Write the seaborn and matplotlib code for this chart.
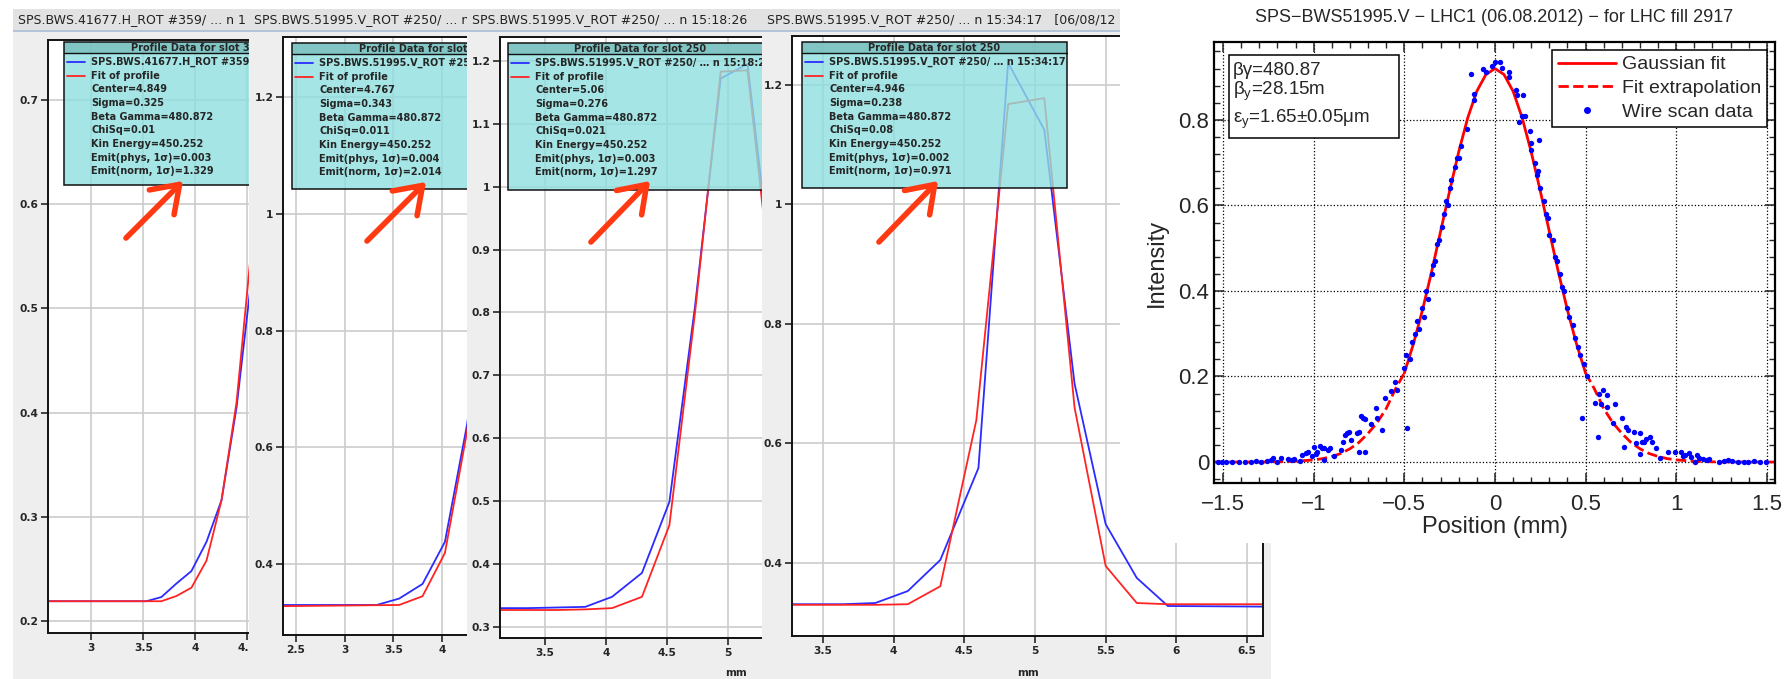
import matplotlib
matplotlib.use("Agg")
import matplotlib.pyplot as plt
import matplotlib.transforms as mtransforms
from matplotlib.patches import Rectangle, FancyArrowPatch
from matplotlib.lines import Line2D
from matplotlib.ticker import AutoMinorLocator, FuncFormatter
import seaborn as sns

sns.set_style("white")
plt.rcParams["font.family"] = ["DejaVu Sans"]
plt.rcParams["mathtext.fontset"] = "custom"
plt.rcParams["mathtext.rm"] = "Liberation Sans"
plt.rcParams["mathtext.it"] = "Liberation Sans:italic"

# ---- data: four Java wire-scanner screenshots (only the visible part of each) ----
p1_title = "SPS.BWS.41677.H_ROT #359/ ... n 1"
p1_header = "Profile Data for slot 3"
p1_blue_x = [2.58, 3.53, 3.675, 3.82, 3.965, 4.11, 4.255, 4.40, 4.545, 4.69]
p1_blue_y = [0.219, 0.219, 0.223, 0.236, 0.248, 0.276, 0.316, 0.405, 0.53, 0.66]
p1_fit_x = [2.58, 3.53, 3.675, 3.82, 3.965, 4.11, 4.255, 4.40, 4.545, 4.69]
p1_fit_y = [0.219, 0.219, 0.219, 0.224, 0.232, 0.258, 0.316, 0.41, 0.56, 0.70]
p1_info = ["SPS.BWS.41677.H_ROT #359,", "Fit of profile", "Center=4.849",
           "Sigma=0.325", "Beta Gamma=480.872", "ChiSq=0.01", "Kin Energy=450.252",
           "Emit(phys, 1σ)=0.003", "Emit(norm, 1σ)=1.329"]

p2_title = "SPS.BWS.51995.V_ROT #250/ ... n 1"
p2_header = "Profile Data for slot"
p2_blue_x = [2.36, 3.33, 3.56, 3.80, 4.03, 4.26, 4.50]
p2_blue_y = [0.330, 0.330, 0.341, 0.366, 0.438, 0.641, 0.95]
p2_fit_x = [2.36, 3.56, 3.80, 4.03, 4.26, 4.50]
p2_fit_y = [0.328, 0.330, 0.345, 0.419, 0.629, 0.95]
p2_info = ["SPS.BWS.51995.V_ROT #25", "Fit of profile", "Center=4.767",
           "Sigma=0.343", "Beta Gamma=480.872", "ChiSq=0.011", "Kin Energy=450.252",
           "Emit(phys, 1σ)=0.004", "Emit(norm, 1σ)=2.014"]

p3_title = "SPS.BWS.51995.V_ROT #250/ ... n 15:18:26"
p3_header = "Profile Data for slot 250"
p3_blue_x = [3.13, 3.36, 3.60, 3.83, 4.05, 4.295, 4.52, 4.73, 4.94, 5.16, 5.38]
p3_blue_y = [0.330, 0.330, 0.331, 0.332, 0.348, 0.386, 0.499, 0.81, 1.172, 1.195, 0.83]
p3_fit_x = [3.13, 3.36, 3.60, 3.83, 4.05, 4.295, 4.52, 4.73, 4.94, 5.16, 5.38]
p3_fit_y = [0.327, 0.327, 0.327, 0.328, 0.330, 0.348, 0.462, 0.80, 1.183, 1.185, 0.80]
p3_info = ["SPS.BWS.51995.V_ROT #250/ … n 15:18:2", "Fit of profile", "Center=5.06",
           "Sigma=0.276", "Beta Gamma=480.872", "ChiSq=0.021", "Kin Energy=450.252",
           "Emit(phys, 1σ)=0.003", "Emit(norm, 1σ)=1.297"]

p4_title = "SPS.BWS.51995.V_ROT #250/ ... n 15:34:17   [06/08/12"
p4_header = "Profile Data for slot 250"
p4_blue_x = [3.28, 3.64, 3.87, 4.10, 4.33, 4.60, 4.81, 5.066, 5.28, 5.50, 5.72, 5.94, 6.61]
p4_blue_y = [0.331, 0.331, 0.333, 0.353, 0.405, 0.559, 1.237, 1.125, 0.70, 0.465, 0.375, 0.328, 0.327]
p4_fit_x = [3.28, 3.64, 3.87, 4.10, 4.33, 4.585, 4.81, 5.066, 5.28, 5.50, 5.72, 5.94, 6.61]
p4_fit_y = [0.330, 0.330, 0.330, 0.331, 0.361, 0.639, 1.168, 1.178, 0.66, 0.395, 0.333, 0.331, 0.331]
p4_info = ["SPS.BWS.51995.V_ROT #250/ … n 15:34:17", "Fit of profile", "Center=4.946",
           "Sigma=0.238", "Beta Gamma=480.872", "ChiSq=0.08", "Kin Energy=450.252",
           "Emit(phys, 1σ)=0.002", "Emit(norm, 1σ)=0.971"]

# ---- data: MATLAB summary plot ----
fit_x = [-1.55, -1.3, -1.2, -1.1, -1.0, -0.95, -0.9, -0.85, -0.8, -0.75, -0.7, -0.65, -0.6,
         -0.55, -0.5, -0.45, -0.4, -0.35, -0.3, -0.25, -0.2, -0.15, -0.1, -0.05, 0.0,
         0.05, 0.1, 0.15, 0.2, 0.25, 0.3, 0.35, 0.4, 0.45, 0.5, 0.55, 0.6, 0.65, 0.7,
         0.75, 0.8, 0.85, 0.9, 0.95, 1.0, 1.1, 1.2, 1.3, 1.55]
fit_y = [0.0, 0.0, 0.0005, 0.002, 0.005, 0.008, 0.013, 0.020, 0.031, 0.046, 0.067, 0.092, 0.125,
         0.170, 0.208, 0.276, 0.355, 0.444, 0.539, 0.634, 0.725, 0.805, 0.867, 0.906, 0.920,
         0.906, 0.867, 0.805, 0.725, 0.634, 0.539, 0.444, 0.355, 0.276, 0.208, 0.170, 0.125,
         0.092, 0.067, 0.046, 0.031, 0.020, 0.013, 0.008, 0.005, 0.002, 0.0005, 0.0, 0.0]

wire_x = [-1.526, -1.504, -1.482, -1.448, -1.414, -1.380, -1.347, -1.317, -1.290, -1.257,
          -1.234, -1.223, -1.201, -1.178, -1.144, -1.122, -1.111, -1.077, -1.066, -1.043,
          -1.032, -1.010, -0.998, -0.987, -0.980, -0.965, -0.953, -0.942, -0.942, -0.920,
          -0.908, -0.886, -0.852, -0.841, -0.830, -0.818, -0.807, -0.796, -0.762, -0.751,
          -0.751, -0.740, -0.729, -0.717, -0.717, -0.684, -0.654, -0.650, -0.621, -0.605,
          -0.576, -0.538, -0.553, -0.486,
          -0.50, -0.49, -0.47, -0.46, -0.44, -0.43, -0.42, -0.40, -0.39, -0.38, -0.37, -0.35,
          -0.34, -0.33, -0.32, -0.31, -0.29, -0.28, -0.27, -0.26, -0.25, -0.24, -0.22, -0.21,
          -0.196, -0.189, -0.155, -0.118, -0.115, -0.133, -0.065, -0.050, -0.014, 0.002,
          0.029, 0.040, 0.076, 0.076, 0.114, 0.121, 0.152, 0.148, 0.166, 0.132, 0.193,
          0.242, 0.197,
          0.20, 0.22, 0.23, 0.24, 0.25, 0.27, 0.28, 0.29, 0.30, 0.32, 0.33, 0.34, 0.36,
          0.37, 0.38, 0.40, 0.41, 0.43, 0.44, 0.46, 0.47, 0.49, 0.51,
          0.481, 0.553, 0.571, 0.575, 0.586, 0.598, 0.616, 0.620, 0.654, 0.665, 0.699,
          0.710, 0.721, 0.732, 0.766, 0.777, 0.800, 0.800, 0.811, 0.822, 0.834, 0.856,
          0.867, 0.890, 0.908, 0.957, 0.991, 1.025, 1.036, 1.047, 1.070, 1.081, 1.103,
          1.115, 1.126, 1.148, 1.171, 1.182, 1.238, 1.261, 1.283, 1.306, 1.339, 1.373,
          1.396, 1.429, 1.463, 1.497]
wire_y = [0.001, 0.001, 0.001, 0.001, 0.001, 0.001, -0.001, 0.002, 0.001, 0.003,
          0.005, 0.009, 0.001, 0.009, 0.006, 0.005, 0.006, 0.003, 0.016, 0.020,
          0.024, 0.014, 0.036, 0.019, 0.024, 0.037, 0.032, 0.005, 0.032, 0.028,
          0.032, 0.014, 0.028, 0.048, 0.063, 0.067, 0.071, 0.051, 0.067, 0.071,
          0.024, 0.108, 0.102, 0.100, 0.024, 0.090, 0.126, 0.102, 0.075, 0.149,
          0.165, 0.168, 0.188, 0.079,
          0.22, 0.25, 0.24, 0.28, 0.30, 0.33, 0.31, 0.36, 0.34, 0.40, 0.38, 0.44,
          0.46, 0.47, 0.51, 0.52, 0.55, 0.58, 0.61, 0.60, 0.64, 0.66, 0.69, 0.71,
          0.710, 0.739, 0.778, 0.846, 0.860, 0.908, 0.919, 0.913, 0.927, 0.936,
          0.935, 0.922, 0.911, 0.901, 0.870, 0.857, 0.857, 0.809, 0.808, 0.794, 0.773,
          0.753, 0.747,
          0.73, 0.70, 0.67, 0.68, 0.64, 0.61, 0.58, 0.57, 0.53, 0.52, 0.48, 0.47, 0.44,
          0.41, 0.40, 0.36, 0.34, 0.32, 0.29, 0.27, 0.25, 0.23, 0.20,
          0.104, 0.139, 0.059, 0.159, 0.136, 0.168, 0.157, 0.129, 0.092, 0.136, 0.102,
          0.036, 0.083, 0.075, 0.071, 0.045, 0.067, 0.019, 0.048, 0.048, 0.053, 0.059,
          0.048, 0.032, 0.009, 0.024, 0.024, 0.024, 0.013, 0.016, 0.020, 0.011, 0.001,
          0.016, 0.009, 0.006, 0.005, 0.006, 0.001, 0.003, 0.005, 0.002, 0.001, 0.001,
          0.001, 0.002, 0.001, 0.000]

right_title = "SPS\u2212BWS51995.V \u2212 LHC1 (06.08.2012) \u2212 for LHC fill 2917"
info_lines = ["βγ=480.87", "β$_\\mathrm{y}$=28.15m", "ε$_\\mathrm{y}$=1.65±0.05μm"]

# ---- figure in pixel units ----
W, H = 1789, 679
fig = plt.figure(figsize=(W / 100, H / 100), dpi=100, facecolor="white")
PX = mtransforms.Affine2D().scale(1 / W, -1 / H).translate(0, 1) + fig.transFigure


def rect(x0, y0, x1, y1):
    return [x0 / W, 1 - y1 / H, (x1 - x0) / W, (y1 - y0) / H]


def bare(ax, color):
    ax.set_facecolor(color)
    ax.set_xticks([])
    ax.set_yticks([])
    for s in ax.spines.values():
        s.set_visible(False)


def java_panel(wx0, wx1, title, pbox, xlim, yticks, xticks, ylim,
               bx, by, fx, fy, box, header, info, mm_x=None, right_spine=False):
    win = fig.add_axes(rect(wx0, 9, wx1, H))
    bare(win, "#eeeeee")
    win.add_patch(Rectangle((wx0, 9), wx1 - wx0, 22, transform=PX,
                            facecolor="#e2e2e2", edgecolor="none"))
    win.plot([wx0, wx1], [31, 31], transform=PX, color="#a9bcd8", lw=1.2)
    win.text(wx0 + 5, 20, title, transform=PX, va="center", fontsize=9,
             color="#222222", clip_on=True)
    if mm_x is not None:
        win.text(mm_x, 673, "mm", transform=PX, ha="center", va="center",
                 fontsize=7.5, fontweight="bold", clip_on=True)

    ax = fig.add_axes(rect(*pbox))
    ax.set_facecolor("white")
    sns.lineplot(x=bx, y=by, ax=ax, color="#2b2bff", lw=1.3, sort=False, estimator=None)
    sns.lineplot(x=fx, y=fy, ax=ax, color="#ff2424", lw=1.3, sort=False, estimator=None)
    ax.set_xticks(xticks)
    ax.set_yticks(yticks)
    ax.xaxis.set_major_formatter(FuncFormatter(lambda v, p: f"{v:g}"))
    ax.yaxis.set_major_formatter(FuncFormatter(lambda v, p: f"{v:g}"))
    ax.set_xlim(*xlim)
    ax.set_ylim(*ylim)
    ax.grid(True, color="#cccccc", lw=1.2)
    ax.set_axisbelow(True)
    ax.tick_params(direction="out", length=5, width=1.2, labelsize=7.7, pad=2,
                   left=True, bottom=True)
    for lbl in ax.get_xticklabels() + ax.get_yticklabels():
        lbl.set_fontweight("bold")
    for s in ax.spines.values():
        s.set_color("#111111")
        s.set_linewidth(1.4)
    ax.spines["right"].set_visible(right_spine)
    ax.set_xlabel("")
    ax.set_ylabel("")

    x0, top, bot = box
    ax.add_patch(Rectangle((x0, top), 265, bot - top, transform=PX, zorder=3,
                           facecolor=(0.56, 0.875, 0.875), alpha=0.8, edgecolor="none"))
    ax.add_patch(Rectangle((x0, top), 265, 11, transform=PX, zorder=3,
                           facecolor=(0.48, 0.74, 0.74), alpha=0.8, edgecolor="none"))
    ax.add_patch(Rectangle((x0, top), 265, bot - top, transform=PX, zorder=4,
                           facecolor="none", edgecolor="#111111", lw=1.1))
    ax.plot([x0, x0 + 265], [top + 11, top + 11], transform=PX, color="#111111", lw=1, zorder=4)
    # header is centred on the full box; the cut ones start where the reference shows them
    if header.endswith("250"):
        ax.text(x0 + 132, top + 6, header, transform=PX, ha="center", va="center",
                fontsize=7, fontweight="bold", zorder=5, clip_on=True)
    else:
        ax.text(x0 + 67, top + 6, header, transform=PX, ha="left", va="center",
                fontsize=7, fontweight="bold", zorder=5, clip_on=True)
    for i, line in enumerate(info):
        yy = top + 20 + i * 13.65
        ax.text(x0 + 27, yy, line, transform=PX, va="center", fontsize=7,
                fontweight="bold", zorder=5, clip_on=True)
    ax.plot([x0 + 3, x0 + 21], [top + 20, top + 20], transform=PX, color="#2b2bff", lw=1.3, zorder=5)
    ax.plot([x0 + 3, x0 + 21], [top + 33.6, top + 33.6], transform=PX, color="#ff2424", lw=1.3, zorder=5)
    return ax


java_panel(13, 249, p1_title, (48, 40, 249, 633), (2.581, 4.52),
           [0.2, 0.3, 0.4, 0.5, 0.6, 0.7], [3, 3.5, 4, 4.5], (0.1885, 0.7576),
           p1_blue_x, p1_blue_y, p1_fit_x, p1_fit_y, (64, 42, 185), p1_header, p1_info)
java_panel(249, 467, p2_title, (283, 37, 467, 635), (2.366, 4.257),
           [0.4, 0.6, 0.8, 1.0, 1.2], [2.5, 3, 3.5, 4], (0.2786, 1.3026),
           p2_blue_x, p2_blue_y, p2_fit_x, p2_fit_y, (292, 43, 189), p2_header, p2_info)
java_panel(467, 762, p3_title, (500, 37, 762, 638), (3.131, 5.279),
           [0.3, 0.4, 0.5, 0.6, 0.7, 0.8, 0.9, 1.0, 1.1, 1.2], [3.5, 4, 4.5, 5], (0.2825, 1.238),
           p3_blue_x, p3_blue_y, p3_fit_x, p3_fit_y, (508, 43, 190), p3_header, p3_info, mm_x=736)
java_panel(762, 1271, p4_title, (792, 36, 1263, 636), (3.281, 6.613),
           [0.4, 0.6, 0.8, 1.0, 1.2], [3.5, 4, 4.5, 5, 5.5, 6, 6.5], (0.2778, 1.282),
           p4_blue_x, p4_blue_y, p4_fit_x, p4_fit_y, (802, 42, 188), p4_header, p4_info,
           mm_x=1028, right_spine=True)

# red arrows pointing at the normalised emittance
for (xa, ya), (xb, yb) in [((124, 240), (185, 179)), ((365, 243), (428, 180)),
                           ((589, 244), (652, 179)), ((877, 244), (940, 179))]:
    fig.add_artist(FancyArrowPatch((xa, ya), (xb, yb), transform=PX,
                                   arrowstyle="->,head_length=0.65,head_width=0.45",
                                   mutation_scale=28, lw=4, color="#ff3a12",
                                   capstyle="round", joinstyle="round"))

# ---- MATLAB style plot on the right ----
cover = fig.add_axes(rect(1120, 0, W, 543))
bare(cover, "white")

with plt.rc_context({"font.family": ["Liberation Sans"]}):
    ax = fig.add_axes(rect(1214, 42, 1775, 483))
    ax.set_facecolor("white")
    core_x = [x for x in fit_x if -0.5 <= x <= 0.5]
    core_y = [y for x, y in zip(fit_x, fit_y) if -0.5 <= x <= 0.5]
    left_x = [x for x in fit_x if x <= -0.5]
    left_y = [y for x, y in zip(fit_x, fit_y) if x <= -0.5]
    right_x = [x for x in fit_x if x >= 0.5]
    right_y = [y for x, y in zip(fit_x, fit_y) if x >= 0.5]
    sns.lineplot(x=left_x, y=left_y, ax=ax, color="red", lw=2, ls="--", sort=False, estimator=None)
    sns.lineplot(x=right_x, y=right_y, ax=ax, color="red", lw=2, ls="--", sort=False, estimator=None)
    sns.lineplot(x=core_x, y=core_y, ax=ax, color="red", lw=2, sort=False, estimator=None)
    sns.scatterplot(x=wire_x, y=wire_y, ax=ax, color="blue", s=15, linewidth=0, zorder=3)

    ax.set_xlim(-1.55, 1.545)
    ax.set_ylim(-0.049, 0.982)
    ax.set_xticks([-1.5, -1, -0.5, 0, 0.5, 1, 1.5])
    ax.set_yticks([0, 0.2, 0.4, 0.6, 0.8])
    fmt = FuncFormatter(lambda v, p: f"{v:g}".replace("-", "\u2212"))
    ax.xaxis.set_major_formatter(fmt)
    ax.yaxis.set_major_formatter(fmt)
    ax.xaxis.set_minor_locator(AutoMinorLocator(5))
    ax.yaxis.set_minor_locator(AutoMinorLocator(5))
    ax.tick_params(which="both", direction="in", top=True, right=True, left=True, bottom=True)
    ax.tick_params(which="major", length=7, width=1.1, labelsize=16)
    ax.tick_params(axis="x", which="major", pad=8)
    ax.tick_params(which="minor", length=4, width=1)
    ax.grid(True, which="major", ls=":", color="black", lw=0.9)
    for s in ax.spines.values():
        s.set_linewidth(1.6)
        s.set_color("black")
    ax.set_xlabel("Position (mm)", fontsize=17)
    ax.set_ylabel("Intensity", fontsize=17)
    ax.xaxis.set_label_coords(0.5, -0.075)
    ax.yaxis.set_label_coords(-0.082, 0.5)

    handles = [Line2D([], [], color="red", lw=2),
               Line2D([], [], color="red", lw=2, ls="--"),
               Line2D([], [], color="blue", marker=".", ms=8, ls="none")]
    leg = ax.legend(handles, ["Gaussian fit", "Fit extrapolation", "Wire scan data"],
                    loc="upper right", bbox_to_anchor=(0.9857, 0.982), borderaxespad=0,
                    handlelength=3.0, handletextpad=0.3, labelspacing=0.32, borderpad=0.3,
                    fancybox=False, framealpha=1, edgecolor="black",
                    prop={"family": "Liberation Sans", "size": 14})
    leg.get_frame().set_linewidth(1.1)

    ax.add_patch(Rectangle((0.0267, 0.782), 0.303, 0.188, transform=ax.transAxes,
                           facecolor="white", edgecolor="black", lw=1.1, zorder=5))
    for txt, yy in zip(info_lines, [0.925, 0.880, 0.816]):
        ax.text(0.034, yy, txt, transform=ax.transAxes, fontsize=13.5, va="baseline",
                family="Liberation Sans", zorder=6)

    fig.text(1494 / W, 1 - 17 / H, right_title, ha="center", va="center",
             fontsize=13, family="Liberation Sans")

fig.savefig("out.png", dpi=100, facecolor="white")
